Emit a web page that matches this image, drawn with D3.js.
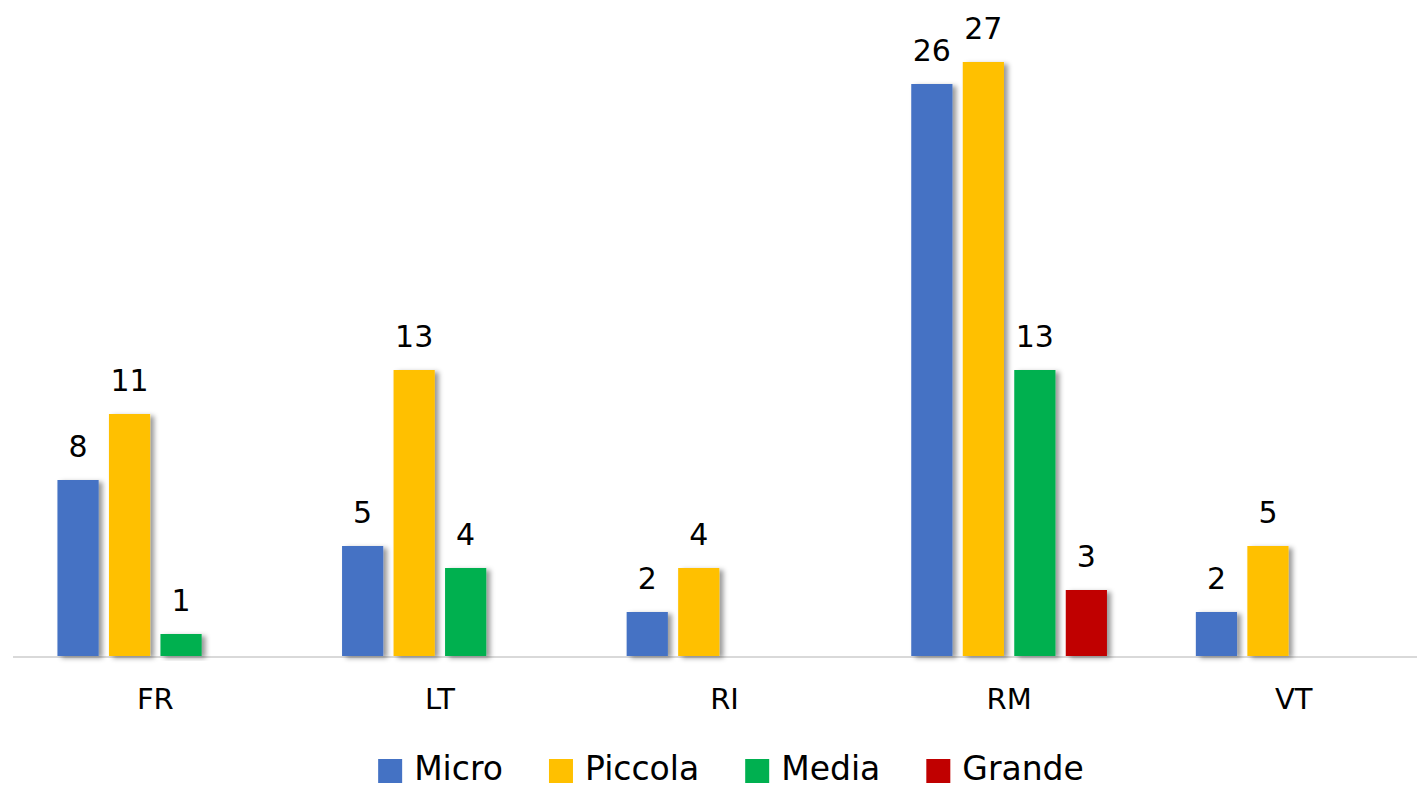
<!DOCTYPE html>
<html>
<head>
<meta charset="utf-8">
<script src="https://cdn.jsdelivr.net/npm/d3@7"></script>
<style>
    body { margin: 0; background: #fff; }
    text { font-family: "DejaVu Sans", sans-serif; fill: #000; }
</style>
</head>
<body>
<svg id="chart"></svg>
<script>
var categories = ['FR', 'LT', 'RI', 'RM', 'VT'];
var seriesNames = ['Micro', 'Piccola', 'Media', 'Grande'];
var seriesColors = ['#4472c4', '#ffc000', '#00b050', '#c00000'];
var micro = [8, 5, 2, 26, 2];
var piccola = [11, 13, 4, 27, 5];
var media = [1, 4, 0, 13, 0];
var grande = [0, 0, 0, 3, 0];

var width = 1417;
var height = 789;
var baseline = 656;
var topY = 62;

var values = [micro, piccola, media, grande];

var svg = d3.select('#chart')
    .attr('width', width)
    .attr('height', height);

var defs = svg.append('defs');
var filter = defs.append('filter')
    .attr('id', 'shadow')
    .attr('x', '-20%').attr('y', '-10%')
    .attr('width', '160%').attr('height', '130%');
filter.append('feDropShadow')
    .attr('dx', 4).attr('dy', 2)
    .attr('stdDeviation', 2.5)
    .attr('flood-color', '#000')
    .attr('flood-opacity', 0.4);

var x0 = d3.scaleBand()
    .domain(categories)
    .range([13, 1436]);

var x1 = d3.scaleBand()
    .domain(seriesNames)
    .range([0, x0.bandwidth()])
    .paddingInner(0.2)
    .paddingOuter(0.863);

var y = d3.scaleLinear()
    .domain([0, 27])
    .range([baseline, topY]);

// flatten to one record per bar, skip empty ones
var bars = [];
for (var i = 0; i < categories.length; i++) {
    for (var s = 0; s < seriesNames.length; s++) {
        var v = values[s][i];
        if (v > 0) {
            bars.push({ cat: categories[i], series: seriesNames[s], color: seriesColors[s], value: v });
        }
    }
}

svg.append('line')
    .attr('x1', 13)
    .attr('x2', width)
    .attr('y1', baseline + 1)
    .attr('y2', baseline + 1)
    .attr('stroke', '#d9d9d9')
    .attr('stroke-width', 2);

svg.selectAll('rect.bar')
    .data(bars)
    .enter()
    .append('rect')
    .classed('bar', true)
    .attr('x', function (d) { return x0(d.cat) + x1(d.series); })
    .attr('y', function (d) { return y(d.value); })
    .attr('width', x1.bandwidth())
    .attr('height', function (d) { return baseline - y(d.value); })
    .attr('fill', function (d) { return d.color; })
    .attr('filter', 'url(#shadow)');

svg.selectAll('text.value')
    .data(bars)
    .enter()
    .append('text')
    .classed('value', true)
    .text(function (d) { return d.value; })
    .attr('x', function (d) { return x0(d.cat) + x1(d.series) + x1.bandwidth() / 2; })
    .attr('y', function (d) { return y(d.value) - 23; })
    .attr('text-anchor', 'middle')
    .style('font-size', '30px');

var xAxis = svg.append('g')
    .attr('transform', 'translate(0,' + baseline + ')')
    .call(d3.axisBottom(x0).tickSize(0).tickPadding(32));
xAxis.select('.domain').remove();
xAxis.selectAll('text')
    .style('font-size', '29px')
    .style('font-family', '"DejaVu Sans", sans-serif');

// legend, laid out from measured text widths
var legend = svg.append('g');
var lx = 0;
for (var k = 0; k < seriesNames.length; k++) {
    var g = legend.append('g').attr('transform', 'translate(' + lx + ',0)');
    g.append('rect')
        .attr('x', 0).attr('y', -21)
        .attr('width', 24).attr('height', 24)
        .attr('fill', seriesColors[k]);
    var t = g.append('text')
        .text(seriesNames[k])
        .attr('x', 36)
        .attr('y', 0)
        .style('font-size', '33px');
    lx += 36 + t.node().getComputedTextLength() + 46;
}
var legendWidth = lx - 46;
legend.attr('transform', 'translate(' + (731 - legendWidth / 2) + ',780)');
</script>
</body>
</html>
